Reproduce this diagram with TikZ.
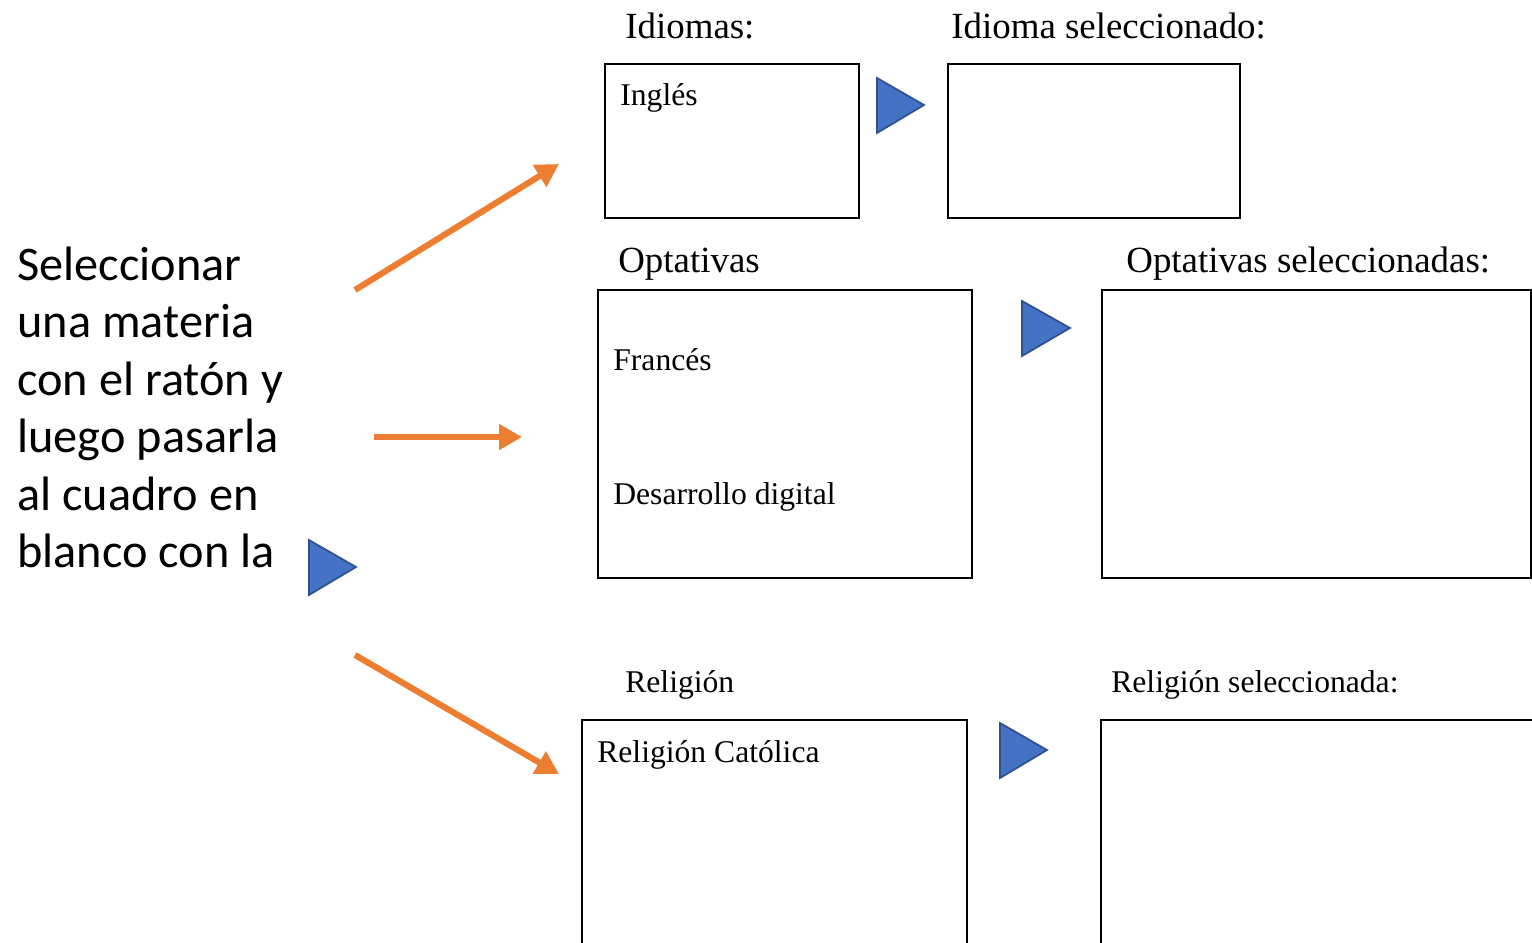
\documentclass[tikz,border=0pt]{standalone}
\usepackage{fontspec}
\setmainfont{Liberation Serif}
\newfontfamily\leftfont{Carlito}
\usetikzlibrary{arrows.meta}
\definecolor{triblue}{HTML}{4472C4}
\definecolor{triedge}{HTML}{2F528F}
\definecolor{arrorange}{HTML}{ED7D31}
\begin{document}
\begin{tikzpicture}[x=0.02cm,y=-0.02cm,
  box/.style={draw=black,line width=1.1pt},
  lbl/.style={anchor=base west,inner sep=0pt,font=\fontsize{21}{25}\selectfont},
  lbls/.style={anchor=base west,inner sep=0pt,font=\fontsize{18}{22}\selectfont},
  item/.style={anchor=base west,inner sep=0pt,font=\fontsize{18}{22}\selectfont},
  tri/.style={fill=triblue,draw=triedge,line width=1pt,line join=miter},
  oarrow/.style={draw=arrorange,line width=3.5pt,-{Triangle[length=13pt,width=14pt]}},
  linetext/.style={anchor=base west,inner sep=0pt,font=\leftfont\fontsize{27.5}{32}\selectfont}]
\useasboundingbox (0,0) rectangle (1532,943);
\clip (0,0) rectangle (1532,943);
% left instruction text
\node[linetext] (t1) at (17,280) {Seleccionar};
\node[linetext] (t2) at (17,337.5) {una materia};
\node[linetext] (t3) at (17,395) {con el ratón y};
\node[linetext] (t4) at (17,452.5) {luego pasarla};
\node[linetext] (t5) at (17,510) {al cuadro en};
\node[linetext] (t6) at (17,567.5) {blanco con la};
\draw[tri] (309,540) -- (309,595) -- (356,567) -- cycle;
% orange arrows
\coordinate (a1s) at (355,290); \coordinate (a1e) at (559,164);
\coordinate (a2s) at (374,437); \coordinate (a2e) at (522,437);
\coordinate (a3s) at (355,655); \coordinate (a3e) at (559,774);
\draw[oarrow] (a1s) -- (a1e);
\draw[oarrow] (a2s) -- (a2e);
\draw[oarrow] (a3s) -- (a3e);
% Idiomas
\node[lbl] (l1) at (625,38) {Idiomas:};
\node[lbl] (l2) at (951,38) {Idioma seleccionado:};
\draw[box] (605,64) rectangle (859,218);
\draw[box] (948,64) rectangle (1240,218);
\node[item] (i1) at (620,105) {Inglés};
\draw[tri] (877,78) -- (877,133) -- (924,105) -- cycle;
% Optativas
\node[lbl] (l3) at (618,272) {Optativas};
\node[lbl] (l4) at (1126,272) {Optativas seleccionadas:};
\draw[box] (598,290) rectangle (972,578);
\draw[box] (1102,290) rectangle (1531,578);
\node[item] (i2) at (613,370) {Francés};
\node[item] (i3) at (613,504) {Desarrollo digital};
\draw[tri] (1022,301) -- (1022,356) -- (1070,328) -- cycle;
% Religion
\node[lbls] (l5) at (625,692) {Religión};
\node[lbls] (l6) at (1111,692) {Religión seleccionada:};
\draw[box] (582,720) rectangle (967,960);
\draw[box] (1101,720) rectangle (1560,960);
\node[item] (i4) at (597,762) {Religión Católica};
\draw[tri] (1000,723) -- (1000,778) -- (1047,750) -- cycle;
\end{tikzpicture}
\end{document}
